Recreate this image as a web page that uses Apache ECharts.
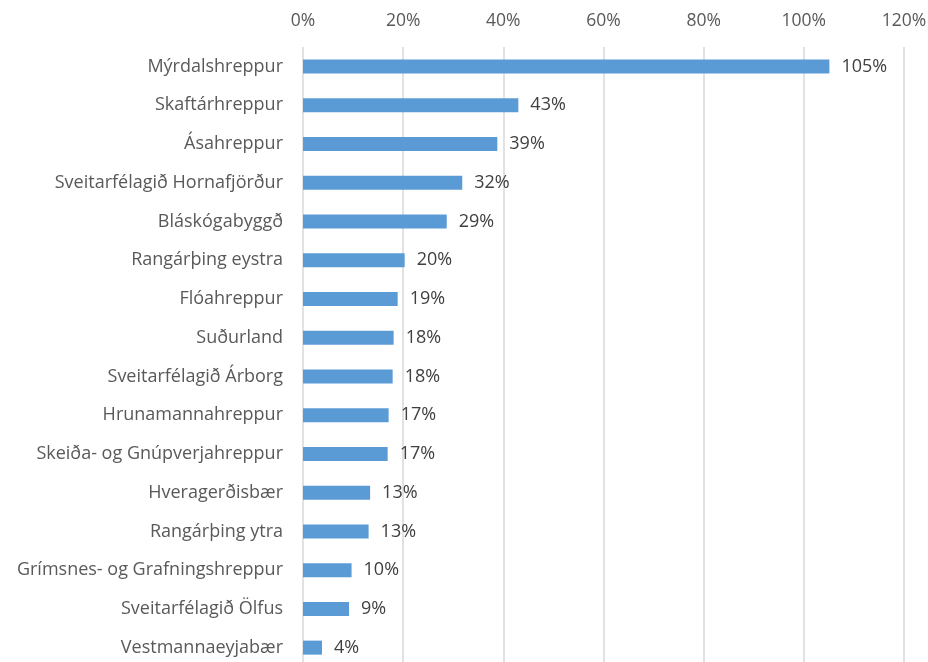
<!DOCTYPE html>
<html lang="is">

<head>
    <meta charset="UTF-8">
    <script src="https://cdn.jsdelivr.net/npm/echarts@6/dist/echarts.min.js"></script>
    <style>
        html, body { margin: 0; padding: 0; background: #fff; }
        #chart { width: 928px; height: 662px; }
    </style>
    <title>Suðurland</title>
</head>

<body>
    <div id="chart"></div>
    <script type="text/javascript">
        // sveitarfélög, efst til neðst
        var categories = [
            'Mýrdalshreppur', 'Skaftárhreppur', 'Ásahreppur', 'Sveitarfélagið Hornafjörður',
            'Bláskógabyggð', 'Rangárþing eystra', 'Flóahreppur', 'Suðurland',
            'Sveitarfélagið Árborg', 'Hrunamannahreppur', 'Skeiða- og Gnúpverjahreppur',
            'Hveragerðisbær', 'Rangárþing ytra', 'Grímsnes- og Grafningshreppur',
            'Sveitarfélagið Ölfus', 'Vestmannaeyjabær'
        ];
        var values = [105.1, 43.0, 38.8, 31.8, 28.7, 20.3, 18.9, 18.1, 17.9, 17.1, 16.9, 13.4, 13.1, 9.7, 9.2, 3.8];
        var xTicks = [0, 20, 40, 60, 80, 100, 120];

        var font = '"Open Sans", "Noto Sans", sans-serif';
        var chart = echarts.init(document.getElementById('chart'));
        var option = {
            animation: false,
            grid: { left: 303, right: 24, top: 47, height: 620, containLabel: false, outerBoundsMode: 'none' },
            xAxis: {
                type: 'value',
                position: 'top',
                min: xTicks[0],
                max: xTicks[xTicks.length - 1],
                interval: 20,
                axisLine: { show: false },
                axisTick: { show: false },
                axisLabel: {
                    formatter: '{value}%',
                    color: '#595959',
                    fontSize: 17.5,
                    fontFamily: font,
                    margin: 17
                },
                splitLine: { lineStyle: { color: '#d9d9d9', width: 1.5 } }
            },
            yAxis: {
                type: 'category',
                inverse: true,
                data: categories,
                axisLine: { show: false },
                axisTick: { show: false },
                axisLabel: {
                    color: '#595959',
                    fontSize: 18,
                    fontFamily: font,
                    margin: 20
                }
            },
            series: [{
                type: 'bar',
                data: values,
                barWidth: 14,
                itemStyle: { color: '#5b9bd5' },
                label: {
                    show: true,
                    position: 'right',
                    distance: 12,
                    color: '#404040',
                    fontSize: 18,
                    fontFamily: font,
                    formatter: function (p) { return Math.round(p.value) + '%'; }
                }
            }]
        };
        chart.setOption(option, true);
    </script>
</body>

</html>
